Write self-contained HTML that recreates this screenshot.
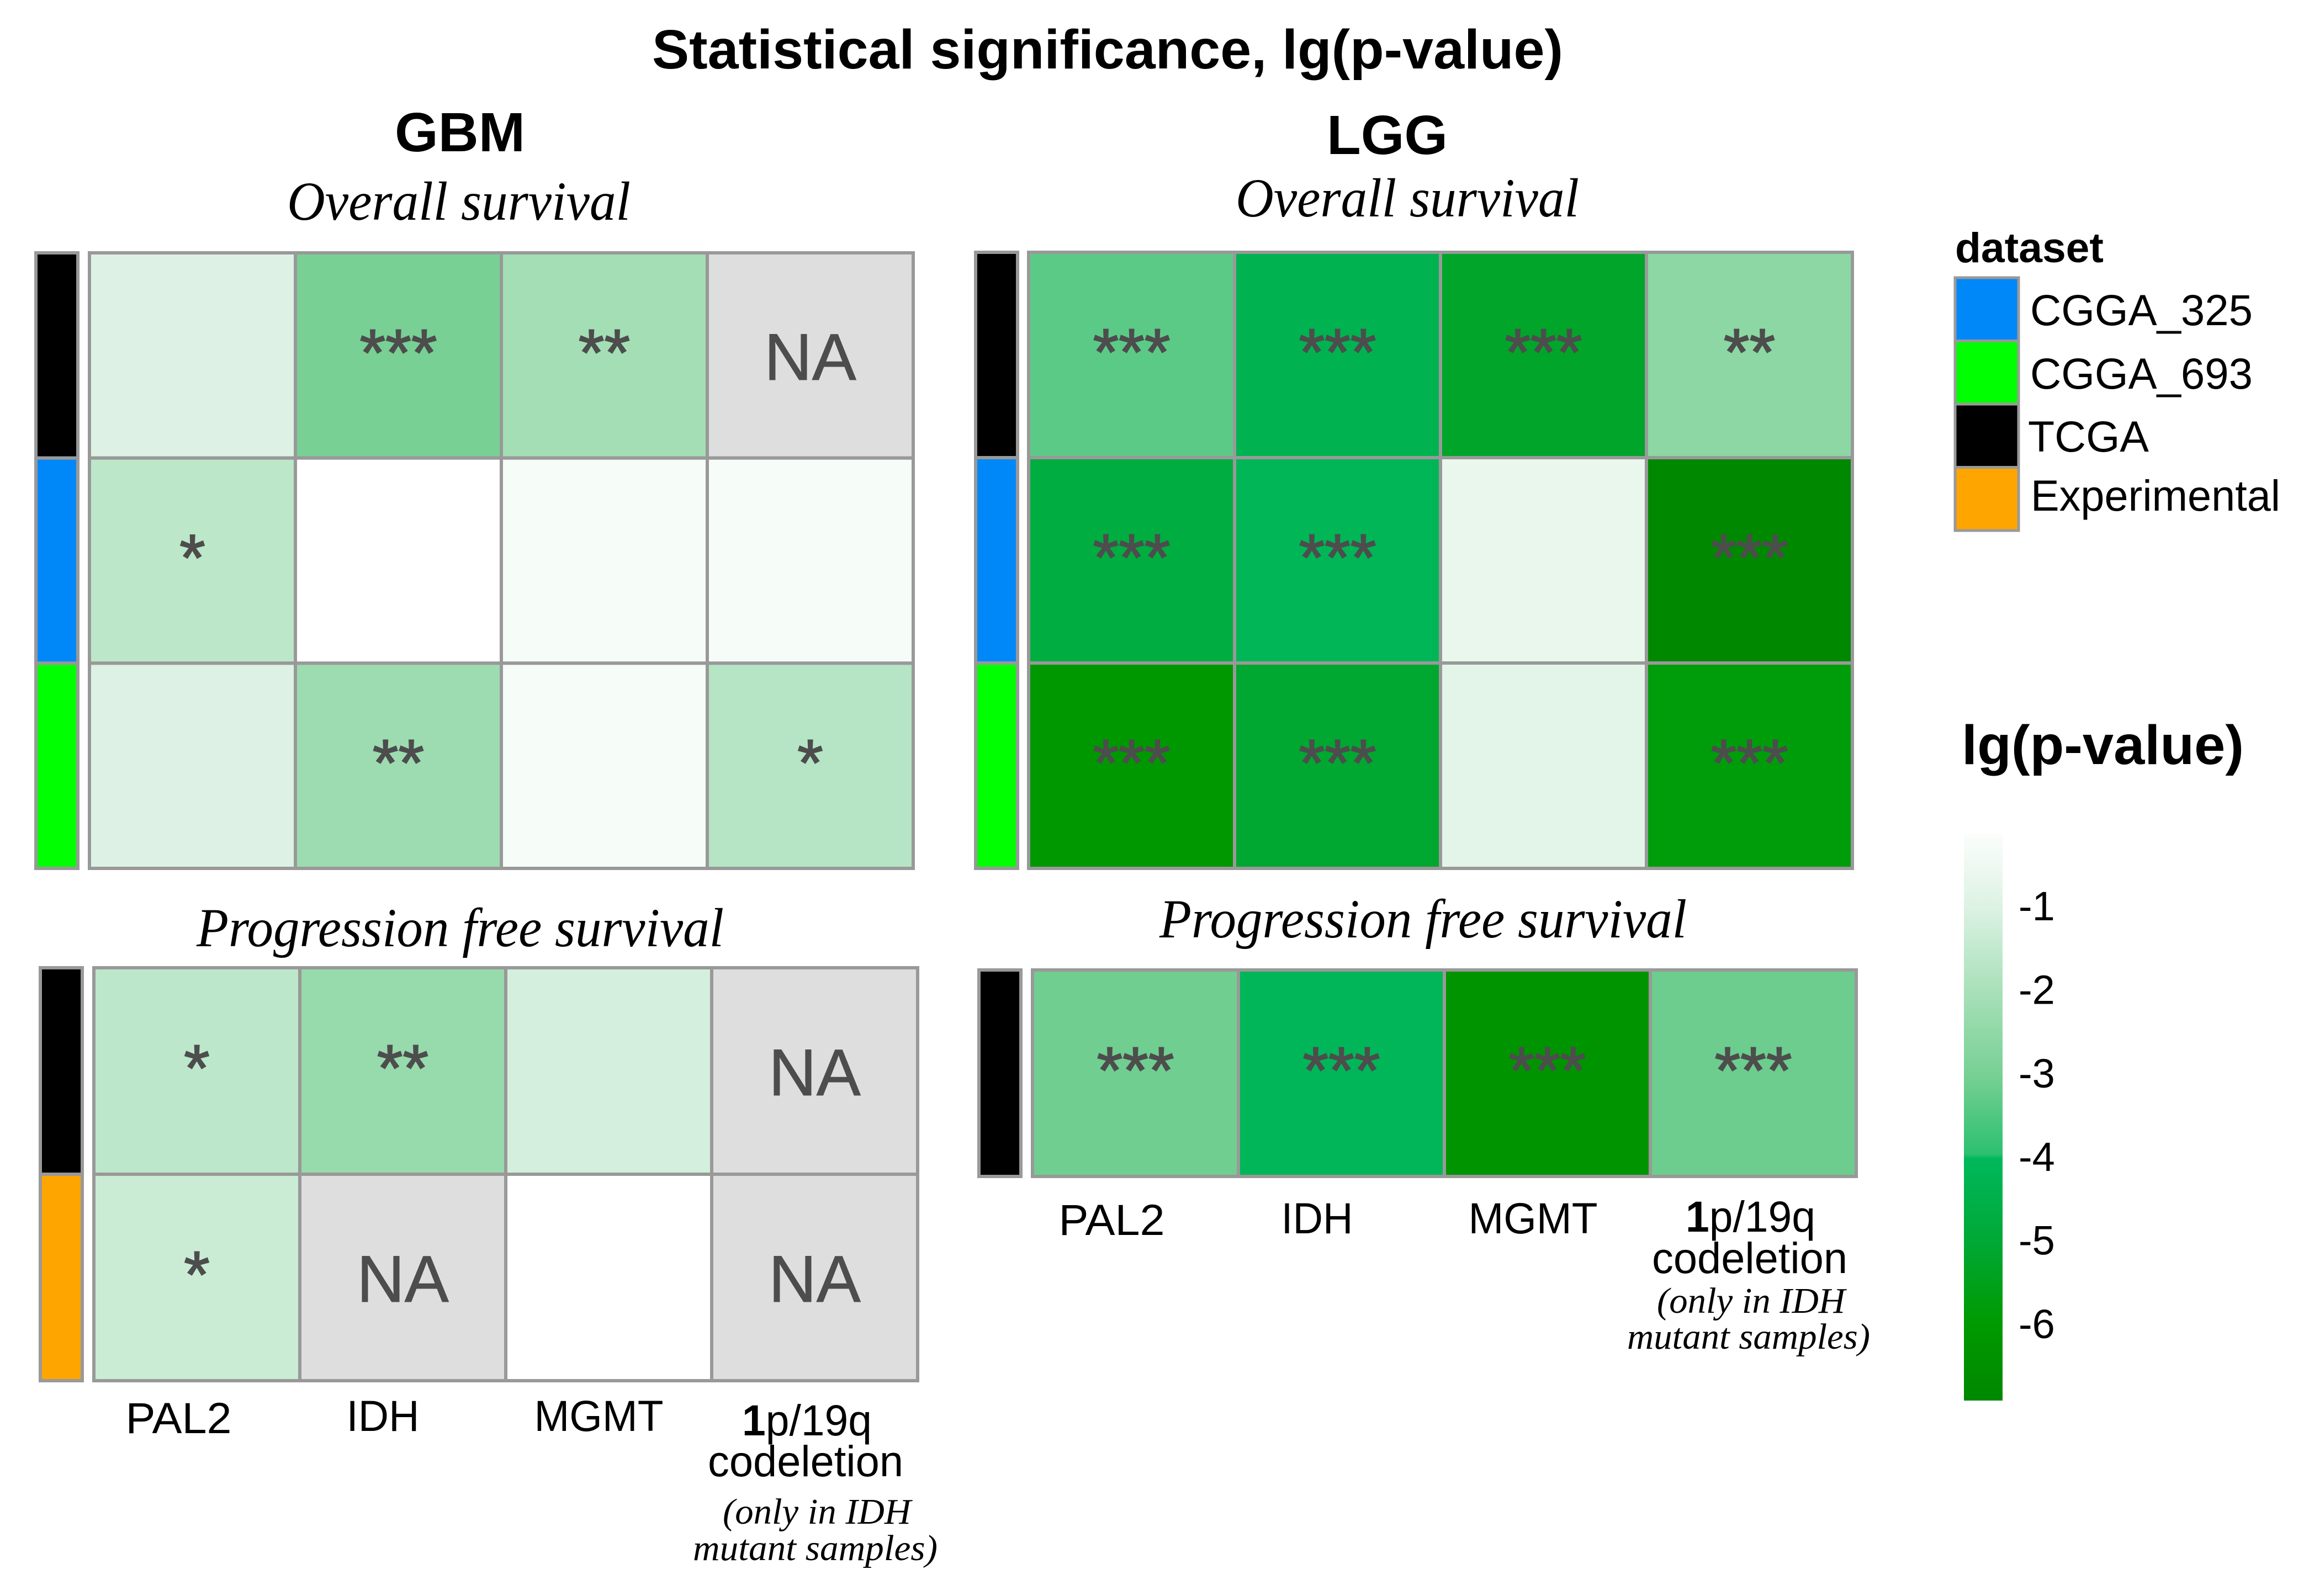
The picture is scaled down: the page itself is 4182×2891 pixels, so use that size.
<!DOCTYPE html>
<html lang="en">
<head>
<meta charset="utf-8">
<title>Statistical significance, lg(p-value)</title>
<style>
html,body{margin:0;padding:0;background:#fff;}
svg{display:block;}
.sans{font-family:"Liberation Sans",Arial,sans-serif;}
.serif{font-family:"Liberation Serif","Times New Roman",serif;font-style:italic;}
.bold{font-weight:bold;}
</style>
</head>
<body>
<svg id="chart" xmlns="http://www.w3.org/2000/svg" width="4182" height="2891" viewBox="0 0 4182 2891">
  <rect x="0" y="0" width="4182" height="2891" fill="#ffffff"/>
  <text class="sans bold" x="1181" y="124" font-size="100" textLength="1650" lengthAdjust="spacingAndGlyphs">Statistical significance, lg(p-value)</text>
  <text class="sans bold" x="715" y="274" font-size="100" textLength="236" lengthAdjust="spacingAndGlyphs">GBM</text>
  <text class="sans bold" x="2403" y="279" font-size="100" textLength="219" lengthAdjust="spacingAndGlyphs">LGG</text>
  <text class="serif" x="520" y="398" font-size="100" textLength="622" lengthAdjust="spacingAndGlyphs">Overall survival</text>
  <text class="serif" x="2238" y="392" font-size="100" textLength="622" lengthAdjust="spacingAndGlyphs">Overall survival</text>
  <text class="serif" x="356" y="1714" font-size="100" textLength="955" lengthAdjust="spacingAndGlyphs">Progression free survival</text>
  <text class="serif" x="2100" y="1698" font-size="100" textLength="955" lengthAdjust="spacingAndGlyphs">Progression free survival</text>

  <text class="sans" x="1282" y="2674" font-size="79" textLength="354" lengthAdjust="spacingAndGlyphs">codeletion</text>
  <text class="serif" x="1309" y="2760" font-size="66" textLength="341" lengthAdjust="spacingAndGlyphs">(only in IDH</text>
  <text class="serif" x="1255" y="2826" font-size="66" textLength="443" lengthAdjust="spacingAndGlyphs">mutant samples)</text>
  <text class="sans" x="2992" y="2306" font-size="79" textLength="354" lengthAdjust="spacingAndGlyphs">codeletion</text>
  <text class="serif" x="3001" y="2378" font-size="66" textLength="341" lengthAdjust="spacingAndGlyphs">(only in IDH</text>
  <text class="serif" x="2947" y="2443" font-size="66" textLength="440" lengthAdjust="spacingAndGlyphs">mutant samples)</text>

  <text class="sans bold" x="3541" y="475" font-size="76" textLength="269" lengthAdjust="spacingAndGlyphs">dataset</text>
  <text class="sans bold" x="3553" y="1384" font-size="100" textLength="511" lengthAdjust="spacingAndGlyphs">lg(p-value)</text>

  <defs><linearGradient id="cbGradient" gradientUnits="userSpaceOnUse" x1="0" x2="0" y1="0" y2="0"></linearGradient></defs>
</svg>

<script>
// ---- data ----
const categories = ['PAL2', 'IDH', 'MGMT', '1p/19q'];
const datasetNames = ['CGGA_325', 'CGGA_693', 'TCGA', 'Experimental'];
const datasetColors = ['#0088f8', '#00ff00', '#000000', '#ffa500'];
const colorbarTicks = [-1, -2, -3, -4, -5, -6];
const colorbarDomain = [-0.1, -6.9];

const gbmOsRows = ['TCGA', 'CGGA_325', 'CGGA_693'];
const gbmOsValues = [
  [-0.98, -3.0, -2.1, null],
  [-1.62, 0, -0.25, -0.25],
  [-0.98, -2.23, -0.25, -1.75]
];
const gbmOsStars = [
  ['', '***', '**', ''],
  ['*', '', '', ''],
  ['', '**', '', '*']
];

const lggOsRows = ['TCGA', 'CGGA_325', 'CGGA_693'];
const lggOsValues = [
  [-3.35, -4.3, -5.2, -2.58],
  [-4.7, -4.15, -0.63, -6.9],
  [-6.1, -5.1, -0.8, -5.8]
];
const lggOsStars = [
  ['***', '***', '***', '**'],
  ['***', '***', '', '***'],
  ['***', '***', '', '***']
];

const gbmPfsRows = ['TCGA', 'Experimental'];
const gbmPfsValues = [
  [-1.6, -2.35, -1.15, null],
  [-1.35, null, 0, null]
];
const gbmPfsStars = [
  ['*', '**', '', ''],
  ['*', '', '', '']
];

const lggPfsRows = ['TCGA'];
const lggPfsValues = [
  [-3.1, -4.1, -6.3, -3.15]
];
const lggPfsStars = [
  ['***', '***', '***', '***']
];

// colour scale: value, colour
const scaleValues = [0, -1, -2, -3, -3.95, -4, -5, -6, -6.9];
const scaleColors = ['#ffffff', '#dcf2e3', '#a8e0b9', '#78d094', '#2cc071', '#00b85c', '#00a835', '#009a00', '#008800'];

// ---- drawing ----
const NS = 'http://www.w3.org/2000/svg';
const svg = document.getElementById('chart');
const NA_FILL = '#dedede';
const GRID = '#999999';
const INK = '#4d4d4d';

function hexToRgb(h) {
  return [parseInt(h.slice(1, 3), 16), parseInt(h.slice(3, 5), 16), parseInt(h.slice(5, 7), 16)];
}
function colorOf(v) {
  if (v === null) return NA_FILL;
  if (v >= scaleValues[0]) return scaleColors[0];
  for (let i = 1; i < scaleValues.length; i++) {
    if (v >= scaleValues[i]) {
      const t = (scaleValues[i - 1] - v) / (scaleValues[i - 1] - scaleValues[i]);
      const a = hexToRgb(scaleColors[i - 1]);
      const b = hexToRgb(scaleColors[i]);
      return 'rgb(' + a.map((c, k) => Math.round(c + (b[k] - c) * t)).join(',') + ')';
    }
  }
  return scaleColors[scaleColors.length - 1];
}
function datasetColor(name) {
  return datasetColors[datasetNames.indexOf(name)];
}
function makeRect(x, y, w, h, fill, stroke, sw) {
  const r = document.createElementNS(NS, 'rect');
  r.setAttribute('x', x);
  r.setAttribute('y', y);
  r.setAttribute('width', w);
  r.setAttribute('height', h);
  r.setAttribute('fill', fill);
  if (stroke) {
    r.setAttribute('stroke', stroke);
    r.setAttribute('stroke-width', sw);
  }
  svg.appendChild(r);
  return r;
}
function makeText(str, x, y, size, fill, anchor, width) {
  const t = document.createElementNS(NS, 'text');
  t.setAttribute('class', 'sans');
  t.setAttribute('x', x);
  t.setAttribute('y', y);
  t.setAttribute('font-size', size);
  t.setAttribute('fill', fill);
  if (anchor) t.setAttribute('text-anchor', anchor);
  if (width) {
    t.setAttribute('textLength', width);
    t.setAttribute('lengthAdjust', 'spacingAndGlyphs');
  }
  t.textContent = str;
  svg.appendChild(t);
  return t;
}

const panels = [
  { id: 'gbm-os', rows: gbmOsRows, values: gbmOsValues, stars: gbmOsStars,
    left: 162, right: 1654, top: 458, bottom: 1573, stripL: 65, stripR: 141 },
  { id: 'lgg-os', rows: lggOsRows, values: lggOsValues, stars: lggOsStars,
    left: 1863, right: 3355, top: 457, bottom: 1573, stripL: 1767, stripR: 1843 },
  { id: 'gbm-pfs', rows: gbmPfsRows, values: gbmPfsValues, stars: gbmPfsStars,
    left: 170, right: 1662, top: 1753, bottom: 2501, stripL: 73, stripR: 149,
    labelDx: [-33, -36, -18, -14], labelW: [192, 132, 234, 235], labelBase: [2596, 2592, 2592, 2600] },
  { id: 'lgg-pfs', rows: lggPfsRows, values: lggPfsValues, stars: lggPfsStars,
    left: 1870, right: 3362, top: 1757, bottom: 2131, stripL: 1773, stripR: 1849,
    labelDx: [-43, -44, -26, -5], labelW: [192, 130, 234, 235], labelBase: [2237, 2234, 2234, 2231] }
];

panels.forEach(function (p) {
  const step = (p.right - p.left) / categories.length;
  const rowH = (p.bottom - p.top) / p.rows.length;
  const xOf = function (c) { return p.left + c * step; };
  const yOf = function (r) { return p.top + r * rowH; };

  p.rows.forEach(function (rowName, r) {
    const strip = makeRect(p.stripL, yOf(r), p.stripR - p.stripL, rowH, datasetColor(rowName), GRID, 6);
    
    

    categories.forEach(function (cat, c) {
      const v = p.values[r][c];
      const cell = makeRect(xOf(c), yOf(r), step, rowH, colorOf(v), GRID, 6);
      
      

      const label = v === null ? 'NA' : p.stars[r][c];
      if (label) {
        const dy = label === 'NA' ? 44 : 36;
        const mark = makeText(label, xOf(c) + step / 2, yOf(r) + rowH / 2 + dy, 120, INK, 'middle');
        mark.setAttribute('stroke', INK);
        mark.setAttribute('stroke-width', label === 'NA' ? '1' : '2');
        
        
      }
    });
  });

  if (p.labelDx) {
    categories.forEach(function (cat, c) {
      const tick = makeText('', xOf(c) + step / 2 + p.labelDx[c], p.labelBase[c], 79, '#000000', 'middle', p.labelW[c]);
      if (cat.charAt(0) === '1') {
        const b = document.createElementNS(NS, 'tspan');
        b.setAttribute('font-weight', 'bold');
        b.textContent = cat.charAt(0);
        tick.appendChild(b);
        tick.appendChild(document.createTextNode(cat.slice(1)));
      } else {
        tick.textContent = cat;
      }
      
      
    });
  }
});

// ---- dataset legend ----
const legendLayout = { x: 3541, w: 115, top: 503, step: 114.5,
  labelX: [3677, 3677, 3673, 3678], labelW: [403, 403, 219, 452], labelDy: [28.5, 29, 28.5, 21] };
datasetNames.forEach(function (name, i) {
  const y = legendLayout.top + i * legendLayout.step;
  const sw = makeRect(legendLayout.x, y, legendLayout.w, legendLayout.step, datasetColors[i], GRID, 5);
  
  
  const lab = makeText(name, legendLayout.labelX[i], y + legendLayout.step / 2 + legendLayout.labelDy[i], 79, '#000000', null, legendLayout.labelW[i]);
  
  
});

// ---- colour bar ----
const cb = { x: 3557, w: 70, top: 1508, bottom: 2537 };
function cbY(v) {
  return cb.top + (colorbarDomain[0] - v) / (colorbarDomain[0] - colorbarDomain[1]) * (cb.bottom - cb.top);
}
const grad = document.getElementById('cbGradient');
grad.setAttribute('y1', cb.top);
grad.setAttribute('y2', cb.bottom);
const gradSteps = [colorbarDomain[0]].concat(scaleValues.filter(function (v) {
  return v < colorbarDomain[0] && v > colorbarDomain[1];
}), [colorbarDomain[1]]);
gradSteps.forEach(function (v) {
  const s = document.createElementNS(NS, 'stop');
  s.setAttribute('offset', (cbY(v) - cb.top) / (cb.bottom - cb.top));
  s.setAttribute('stop-color', colorOf(v));
  grad.appendChild(s);
});
const bar = makeRect(cb.x, cb.top, cb.w, cb.bottom - cb.top, 'url(#cbGradient)');


colorbarTicks.forEach(function (v) {
  const t = makeText(String(v), 3656, cbY(v) + 23, 74, '#000000');
  
  
});
</script>
</body>
</html>
